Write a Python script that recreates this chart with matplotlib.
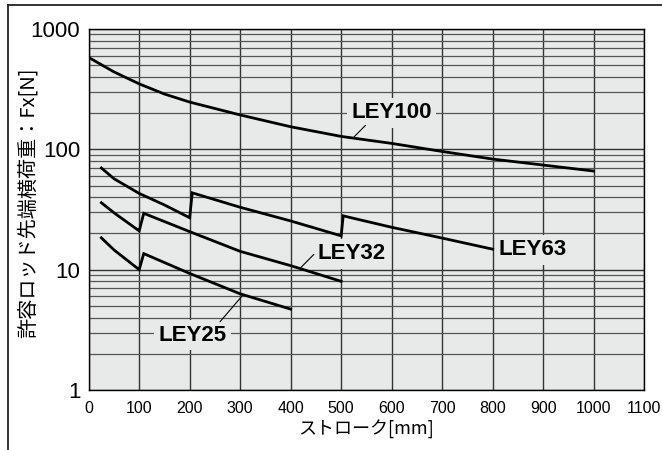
import numpy as np
import matplotlib
matplotlib.use("Agg")
import matplotlib.pyplot as plt
from matplotlib.lines import Line2D
from matplotlib.ticker import FixedLocator, LogLocator, NullFormatter

plt.rcParams["font.family"] = ["Liberation Sans", "DejaVu Sans"]

# stroke [mm] vs allowable lateral load Fx [N]
ley100_x = [0, 50, 100, 150, 200, 300, 400, 500, 600, 700, 800, 900, 1000]
ley100_y = [580, 440, 350, 288, 247, 193, 154, 128, 112, 96, 83, 74, 66]

ley63_x = [25, 50, 100, 150, 200, 205, 300, 400, 500, 504, 600, 700, 800]
ley63_y = [70, 57, 43, 34.5, 27, 43.5, 33, 25.4, 19.1, 28, 22.5, 18.3, 14.8]

ley32_x = [25, 50, 100, 109, 200, 300, 400, 500]
ley32_y = [36, 29.7, 21, 29.4, 20.7, 14.2, 10.8, 8.0]

ley25_x = [25, 50, 100, 109, 200, 300, 400]
ley25_y = [18.4, 14.6, 10, 13.6, 9.3, 6.3, 4.7]

x_ticks = list(range(0, 1101, 100))
y_ticks = [1, 10, 100, 1000]

# label text, label centre, leader start, leader end (data coords)
labels = [
    ("LEY100", (600, 201), (548, 158), (524, 125)),
    ("LEY63", (880, 14.6), None, None),
    ("LEY32", (521, 13.5), (446, 13.4), (418, 10.2)),
    ("LEY25", (206, 2.86), (260, 3.69), (306, 6.2)),
]

bg = "#e8e9e9"

fig = plt.figure(figsize=(6.62, 4.5), dpi=100)
ax = fig.add_axes([0.134, 0.1333, 0.839, 0.8023])
ax.set_facecolor(bg)

for xs, ys in [(ley100_x, ley100_y), (ley63_x, ley63_y),
               (ley32_x, ley32_y), (ley25_x, ley25_y)]:
    ax.plot(xs, ys, color="black", lw=2.0, solid_joinstyle="miter", zorder=3)

ax.set_yscale("log")
ax.set_xlim(0, 1100)
ax.set_ylim(1, 1000)
ax.xaxis.set_major_locator(FixedLocator(x_ticks))
ax.yaxis.set_major_locator(FixedLocator(y_ticks))
ax.yaxis.set_minor_locator(LogLocator(base=10, subs=np.arange(2, 10)))
ax.yaxis.set_minor_formatter(NullFormatter())
ax.set_yticklabels([str(v) for v in y_ticks])
ax.set_xticklabels([str(v) for v in x_ticks])

ax.set_axisbelow(True)
ax.grid(True, which="major", axis="both", color="#333333", lw=1.0)
ax.grid(True, which="minor", axis="y", color="#555555", lw=0.9)

ax.tick_params(axis="both", which="both", length=0)
ax.tick_params(axis="y", labelsize=16, pad=6)
ax.tick_params(axis="x", labelsize=11.5, pad=8)

for s in ax.spines.values():
    s.set_color("black")
    s.set_linewidth(1.0)

ax.set_xlabel("ストローク[mm]", family=["Noto Sans CJK JP", "DejaVu Sans"],
              fontsize=13, labelpad=3)
ax.set_ylabel("許容ロッド先端横荷重：Fx[N]", family=["Noto Sans CJK JP", "DejaVu Sans"],
              fontsize=14.5)
ax.yaxis.set_label_coords(-0.090, 0.52)

for text, pos, lead_start, lead_end in labels:
    ax.text(pos[0], pos[1], text, ha="center", va="center", fontsize=16,
            fontweight="bold", zorder=4,
            bbox=dict(facecolor=bg, edgecolor="none", pad=3))
    if lead_start is not None:
        ax.annotate("", xy=lead_end, xytext=lead_start,
                    arrowprops=dict(arrowstyle="-", lw=0.8, color="black",
                                    shrinkA=0, shrinkB=0), zorder=4)

# outer frame (top and left edges)
fig.add_artist(Line2D([0.012, 1.0], [0.989, 0.989], color="#222222", lw=1.3))
fig.add_artist(Line2D([0.012, 0.012], [0.0, 0.989], color="#222222", lw=1.3))

fig.savefig("out.png", dpi=100)
